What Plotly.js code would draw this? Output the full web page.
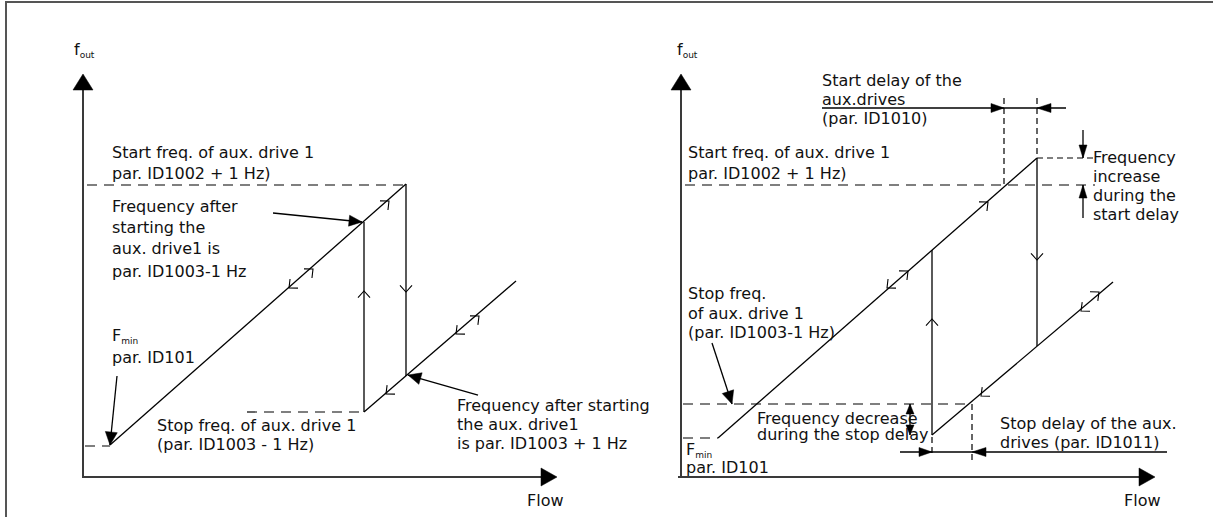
<!DOCTYPE html>
<html>
<head>
<meta charset="utf-8">
<script src="https://cdn.plot.ly/plotly-3.0.1.min.js"></script>
<style>html,body{margin:0;padding:0;background:#fff;}#chart{width:1213px;height:517px;}</style>
</head>
<body>
<div id="chart"></div>
<script>
// ---------- Diagram data (pixel-space diagram units) ----------
// Frame
const frameX = [6, 6, 1213];
const frameY = [517, 2, 2];

// Left panel
const L_yAxisX = [83, 83];   const L_yAxisY = [477, 88];
const L_xAxisX = [82, 543];  const L_xAxisY = [477, 477];
const L_ramp1X = [110, 406]; const L_ramp1Y = [445, 184];
const L_dropX  = [406, 406]; const L_dropY  = [184, 376];
const L_rampB_X = [364, 516]; const L_rampB_Y = [412, 281];
const L_riseX  = [364, 364]; const L_riseY  = [412, 222];
const L_dashStartX = [87, 406];  const L_dashStartY = [185, 185];
const L_dashStopX  = [247, 364]; const L_dashStopY  = [412, 412];
const L_dashFminX  = [85, 110];  const L_dashFminY  = [446, 446];

// Right panel
const R_yAxisX = [681, 681];  const R_yAxisY = [477, 88];
const R_xAxisX = [678, 1141]; const R_xAxisY = [477, 477];
const R_ramp1X = [718, 1037]; const R_ramp1Y = [438, 158];
const R_dropX  = [1037, 1037]; const R_dropY = [158, 346];
const R_rampB_X = [932, 1113]; const R_rampB_Y = [435, 282];
const R_riseX  = [932, 932];  const R_riseY  = [435, 250];
const R_delayTopX = [822, 1066]; const R_delayTopY = [108, 108];
const R_delayBotX = [900, 1167]; const R_delayBotY = [452, 452];
const R_dashStartX = [685, 1095]; const R_dashStartY = [185, 185];
const R_dashStopX  = [683, 972];  const R_dashStopY  = [404, 404];
const R_dashFminX  = [683, 718];  const R_dashFminY  = [438, 438];
const R_vdash1X = [1004, 1004]; const R_vdash1Y = [98, 185];
const R_vdash2X = [1037, 1037]; const R_vdash2Y = [98, 158];
const R_hdashIncX = [1037, 1093]; const R_hdashIncY = [158, 158];
const R_vdash3X = [972, 972]; const R_vdash3Y = [404, 461];
const R_vdash4X = [932, 932]; const R_vdash4Y = [437, 456];
const R_incTopX = [1083, 1083]; const R_incTopY = [130, 158];
const R_incBotX = [1083, 1083]; const R_incBotY = [218, 185];
const R_decX = [910, 910]; const R_decY = [404, 435];

// Filled arrows: [fromX, fromY, tipX, tipY, headLen, halfWidth]
const axisHeads = [
  [83, 100, 83, 74, 16, 10], [530, 477, 557, 477, 16, 9],
  [681, 100, 681, 74, 16, 10], [1130, 477, 1155, 477, 16, 9]
];
const pointerArrows = [
  [273, 213, 362, 222, 13, 5.5],
  [117, 376, 110, 445, 13, 6],
  [478, 395, 408, 375, 13, 6],
  [712, 343, 732, 404, 13, 6]
];
const innerHeads = [
  [990, 108, 1004, 108, 13, 4.5],
  [1053, 108, 1037, 108, 14, 4.5],
  [1083, 140, 1083, 158, 13, 4],
  [1083, 205, 1083, 185, 13, 4],
  [915, 452, 932, 452, 13, 4.5],
  [990, 452, 972, 452, 14, 4.5],
  [910, 420, 910, 404, 10, 4],
  [910, 420, 910, 435, 10, 4]
];

// Chevrons: [tipX, tipY, dirX, dirY]
const chevrons = [
  [389, 201, 1, -0.88], [313, 269, 1, -0.88], [289, 288, -1, 0.88],
  [406, 292, 0, 1], [364, 291, 0, -1],
  [479, 316, 1, -0.87], [456, 334, -1, 0.87], [386, 394, -1, 0.87],
  [988, 202, 1, -0.88], [908, 271, 1, -0.88], [887, 288, -1, 0.88],
  [1037, 260, 0, 1], [932, 319, 0, -1],
  [1099, 292, 1, -0.85], [1081, 311, -1, 0.85], [981, 396, -1, 0.85]
];

// Text labels: [x, y, text]
const SUB = s => "<sub><span style='font-size:9px'>" + s + "</span></sub>";
const labels = [
  [73, 50, "f" + SUB("out")],
  [111, 152, "Start freq. of aux. drive 1"],
  [111, 173, "par. ID1002 + 1 Hz)"],
  [111, 206, "Frequency after"],
  [111, 227, "starting the"],
  [111, 248, "aux. drive1 is"],
  [111, 271, "par. ID1003-1 Hz"],
  [111, 336, "F" + SUB("min")],
  [111, 357, "par. ID101"],
  [156, 425, "Stop freq. of aux. drive 1"],
  [156, 444, "(par. ID1003 - 1 Hz)"],
  [456, 405, "Frequency after starting"],
  [456, 424, "the aux. drive1"],
  [456, 443, "is par. ID1003 + 1 Hz"],
  [526, 500, "Flow"],
  [676, 50, "f" + SUB("out")],
  [821, 80, "Start delay of the"],
  [821, 99, "aux.drives"],
  [821, 118, "(par. ID1010)"],
  [687, 152, "Start freq. of aux. drive 1"],
  [687, 173, "par. ID1002 + 1 Hz)"],
  [1092, 157, "Frequency"],
  [1092, 176, "increase"],
  [1092, 195, "during the"],
  [1092, 214, "start delay"],
  [687, 293, "Stop freq."],
  [687, 313, "of aux. drive 1"],
  [687, 332, "(par. ID1003-1 Hz)"],
  [756, 418, "Frequency decrease"],
  [756, 434, "during the stop delay"],
  [999, 423, "Stop delay of the aux."],
  [999, 442, "drives (par. ID1011)"],
  [685, 450, "F" + SUB("min")],
  [685, 467, "par. ID101"],
  [1123, 500, "Flow"]
];

// ---------- Build traces ----------
const traces = [];
function seg(xs, ys, color, width, dash) {
  traces.push({type: 'scatter', mode: 'lines', x: xs, y: ys, hoverinfo: 'skip',
    line: {color: color, width: width, dash: dash || 'solid'}});
}
function head(a) {
  const [fx, fy, tx, ty, len, hw] = a;
  let dx = tx - fx, dy = ty - fy; const n = Math.hypot(dx, dy); dx /= n; dy /= n;
  const bx = tx - dx * len, by = ty - dy * len;
  const px = -dy, py = dx;
  traces.push({type: 'scatter', mode: 'lines', hoverinfo: 'skip', fill: 'toself',
    fillcolor: '#000', line: {color: '#000', width: 0.5},
    x: [tx, bx + px * hw, bx - px * hw, tx], y: [ty, by + py * hw, by - py * hw, ty]});
}
function chevron(c) {
  const [tx, ty, ddx, ddy] = c;
  const n = Math.hypot(ddx, ddy); const dx = ddx / n, dy = ddy / n;
  const arm = 9, ang = 42 * Math.PI / 180;
  const pts = [ang, -ang].map(a => [
    tx - arm * (dx * Math.cos(a) - dy * Math.sin(a)),
    ty - arm * (dx * Math.sin(a) + dy * Math.cos(a))
  ]);
  traces.push({type: 'scatter', mode: 'lines', hoverinfo: 'skip',
    x: [pts[0][0], tx, pts[1][0]], y: [pts[0][1], ty, pts[1][1]],
    line: {color: '#000', width: 1.1}});
}

const axisCol = '#3a3a3a', lineCol = '#000';
seg(frameX, frameY, '#555', 2);
seg(L_yAxisX, L_yAxisY, axisCol, 2); seg(L_xAxisX, L_xAxisY, axisCol, 2);
seg(R_yAxisX, R_yAxisY, axisCol, 2); seg(R_xAxisX, R_xAxisY, axisCol, 2);

[[L_ramp1X, L_ramp1Y], [L_dropX, L_dropY], [L_rampB_X, L_rampB_Y], [L_riseX, L_riseY],
 [R_ramp1X, R_ramp1Y], [R_dropX, R_dropY], [R_rampB_X, R_rampB_Y], [R_riseX, R_riseY],
 [R_delayTopX, R_delayTopY], [R_delayBotX, R_delayBotY],
 [R_incTopX, R_incTopY], [R_incBotX, R_incBotY], [R_decX, R_decY]
].forEach(p => seg(p[0], p[1], lineCol, 1.3));

[[L_dashStartX, L_dashStartY], [L_dashStopX, L_dashStopY], [L_dashFminX, L_dashFminY],
 [R_dashStartX, R_dashStartY], [R_dashStopX, R_dashStopY], [R_dashFminX, R_dashFminY]
].forEach(p => seg(p[0], p[1], lineCol, 1.2, '10px,7px'));

[[R_vdash1X, R_vdash1Y], [R_vdash2X, R_vdash2Y], [R_hdashIncX, R_hdashIncY],
 [R_vdash3X, R_vdash3Y], [R_vdash4X, R_vdash4Y]
].forEach(p => seg(p[0], p[1], lineCol, 1.2, '6px,4px'));

pointerArrows.forEach(a => { seg([a[0], a[2]], [a[1], a[3]], lineCol, 1.3); head(a); });
axisHeads.forEach(head);
innerHeads.forEach(head);
chevrons.forEach(chevron);

const annotations = labels.map(l => ({
  x: l[0], y: l[1], xref: 'x', yref: 'y', text: l[2], showarrow: false,
  xanchor: 'left', yanchor: 'middle', borderpad: 0,
  font: {family: 'DejaVu Sans, Verdana, sans-serif', size: 16, color: '#111'}
}));

const layout = {
  width: 1213, height: 517, margin: {l: 0, r: 0, t: 0, b: 0},
  paper_bgcolor: '#fff', plot_bgcolor: '#fff', showlegend: false,
  xaxis: {range: [0, 1213], visible: false, fixedrange: true},
  yaxis: {range: [517, 0], visible: false, fixedrange: true},
  annotations: annotations
};
Plotly.newPlot('chart', traces, layout, {staticPlot: true, displayModeBar: false});
</script>
</body>
</html>
